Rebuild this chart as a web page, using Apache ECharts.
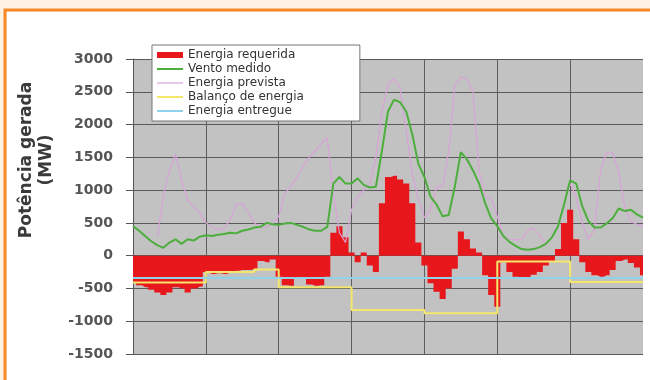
<!DOCTYPE html>
<html>
<head>
<meta charset="utf-8">
<script src="https://cdn.jsdelivr.net/npm/echarts@6/dist/echarts.min.js"></script>
<style>
  html, body { margin: 0; padding: 0; background: #fdf2e3; }
  #chart { width: 650px; height: 380px; }
</style>
</head>
<body>
<div id="chart"></div>
<script>
// horas (passo de 2 h, 7 dias)
const hours = [0, 2, 4, 6, 8, 10, 12, 14, 16, 18, 20, 22,
  24, 26, 28, 30, 32, 34, 36, 38, 40, 42, 44, 46,
  48, 50, 52, 54, 56, 58, 60, 62, 64, 66, 68, 70,
  72, 74, 76, 78, 80, 82, 84, 86, 88, 90, 92, 94,
  96, 98, 100, 102, 104, 106, 108, 110, 112, 114, 116, 118,
  120, 122, 124, 126, 128, 130, 132, 134, 136, 138, 140, 142,
  144, 146, 148, 150, 152, 154, 156, 158, 160, 162, 164, 166, 168];

const requerida = [-400, -450, -480, -520, -560, -600, -560, -480, -500, -560, -500, -470,
  -250, -280, -270, -280, -250, -230, -220, -220, -200, -80, -100, -60,
  -320, -450, -460, -330, -330, -440, -460, -450, -320, 350, 450, 280,
  50, -100, 50, -150, -250, 800, 1200, 1220, 1160, 1100, 800, 200,
  -150, -420, -550, -660, -500, -200, 370, 250, 110, 50, -300, -600,
  -780, -100, -250, -320, -340, -340, -290, -250, -150, -80, 100, 500,
  700, 250, -100, -250, -300, -320, -300, -220, -80, -60, -110, -180, -300];

const vento = [450, 380, 300, 220, 160, 120, 200, 250, 180, 250, 230, 290,
  310, 300, 320, 330, 350, 340, 380, 400, 430, 440, 500, 480,
  470, 490, 500, 470, 440, 400, 380, 380, 440, 1100, 1200, 1100,
  1100, 1180, 1080, 1040, 1050, 1600, 2200, 2380, 2340, 2200, 1850, 1400,
  1200, 900, 780, 600, 620, 1050, 1580, 1470, 1300, 1100, 800, 570,
  450, 300, 210, 150, 100, 90, 100, 130, 180, 280, 450, 780,
  1150, 1100, 750, 530, 430, 430, 490, 570, 720, 680, 700, 630, 580];

const prevista = [null, null, null, null, 300, 900, 1300, 1550, 1150, 850, 750, 650,
  500, 440, 400, 420, 550, 780, 800, 650, 500, 430, 440, 480,
  600, 950, 1050, 1200, 1360, 1500, 1600, 1700, 1800, 950, 350, 200,
  700, 900, 1000, 1100, 1500, 2200, 2600, 2700, 2550, 1900, 1250, 860,
  580, 700, 1050, 1050, 1600, 2600, 2720, 2700, 2500, 1300, 900, 880,
  600, 280, 250, 240, 250, 380, 420, 300, 180, 280, 450, 780,
  1100, 900, 500, 250, 400, 1300, 1570, 1570, 1270, 750, 520, 480, 450];

// balanço: valor mantido até a hora seguinte
const balancoHoras = [0, 24, 40, 48, 72, 96, 120, 144, 168];
const balanco = [-410, -250, -210, -480, -830, -880, -90, -400, -400];

const entregueHoras = [0, 168];
const entregue = [-340, -340];

const zip = (xs, ys) => xs.map((x, i) => [x, ys[i]]);

// ícones da legenda: traço fino
const lineIcon = 'path://M0,0H26V2H0Z';
const thinIcon = 'path://M0,0H26V1.2H0Z';

const orange = '#f7882a';
const white = { fill: '#ffffff' };

const chart = echarts.init(document.getElementById('chart'));

chart.setOption({
  backgroundColor: '#fdf2e3',
  animation: false,
  graphic: [
    // fundo branco dentro da moldura, sem cobrir a área do gráfico
    { type: 'rect', x: 7, y: 12, shape: { width: 643, height: 47 }, style: white },
    { type: 'rect', x: 7, y: 59, shape: { width: 126, height: 295 }, style: white },
    { type: 'rect', x: 643, y: 59, shape: { width: 7, height: 295 }, style: white },
    { type: 'rect', x: 7, y: 354, shape: { width: 643, height: 26 }, style: white },
    // moldura laranja
    {
      type: 'rect', x: 5, y: 10,
      shape: { width: 700, height: 400 },
      style: { fill: 'transparent', stroke: orange, lineWidth: 3 }
    },
    {
      type: 'text', x: 37, y: 160, rotation: Math.PI / 2,
      style: {
        text: 'Potência gerada\n(MW)',
        font: 'bold 17px "DejaVu Sans"',
        fill: '#3a3a3a',
        align: 'center',
        verticalAlign: 'middle',
        lineHeight: 20
      }
    }
  ],
  grid: {
    left: 133, right: 7, top: 59, bottom: 26,
    show: true, backgroundColor: '#c2c2c2', borderWidth: 0
  },
  legend: {
    orient: 'vertical', left: 152, top: 45,
    backgroundColor: '#ffffff', borderColor: '#777', borderWidth: 1,
    padding: [4, 56, 4, 5],
    itemWidth: 26, itemHeight: 6, itemGap: 2,
    textStyle: { fontFamily: 'DejaVu Sans', fontSize: 12, color: '#333' },
    data: [
      { name: 'Energia requerida', icon: 'rect' },
      { name: 'Vento medido', icon: lineIcon },
      { name: 'Energia prevista', icon: thinIcon },
      { name: 'Balanço de energia', icon: lineIcon },
      { name: 'Energia entregue', icon: lineIcon }
    ]
  },
  xAxis: {
    type: 'value', min: 0, max: 168, interval: 24,
    axisLine: { show: false }, axisTick: { show: false }, axisLabel: { show: false },
    splitLine: { showMaxLine: false, lineStyle: { color: '#5e5e5e', width: 1 } }
  },
  yAxis: {
    type: 'value', min: -1500, max: 3000, interval: 500,
    axisLine: { show: true, lineStyle: { color: '#555' } },
    axisTick: { show: true, length: 7, lineStyle: { color: '#555' } },
    axisLabel: {
      margin: 20, fontFamily: 'DejaVu Sans', fontWeight: 'bold', fontSize: 14, color: '#555',
      formatter: v => String(v)
    },
    splitLine: { lineStyle: { color: '#5a5a5a', width: 1 } }
  },
  series: [
    {
      name: 'Energia requerida', type: 'line', step: 'middle',
      data: zip(hours, requerida), symbol: 'none', color: '#e8171c',
      lineStyle: { width: 0 }, areaStyle: { color: '#e8171c', opacity: 1 }
    },
    {
      name: 'Energia prevista', type: 'line', data: zip(hours, prevista),
      symbol: 'none', color: '#d9a3d8', lineStyle: { width: 1.2 }
    },
    {
      name: 'Vento medido', type: 'line', data: zip(hours, vento),
      symbol: 'none', color: '#4cae3c', lineStyle: { width: 2 }
    },
    {
      name: 'Balanço de energia', type: 'line', step: 'end',
      data: zip(balancoHoras, balanco),
      symbol: 'none', color: '#f3e66a', lineStyle: { width: 2 }
    },
    {
      name: 'Energia entregue', type: 'line', data: zip(entregueHoras, entregue),
      symbol: 'none', color: '#8fd3ea', lineStyle: { width: 2 }
    }
  ]
});
</script>
</body>
</html>
